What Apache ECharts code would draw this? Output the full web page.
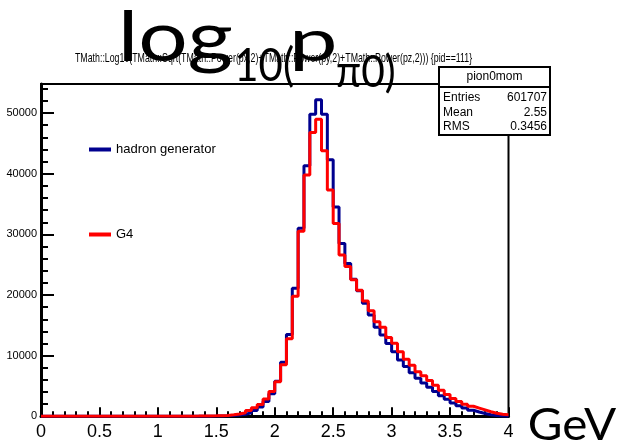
<!DOCTYPE html>
<html>
<head>
<meta charset="utf-8">
<script src="https://cdn.jsdelivr.net/npm/echarts@6/dist/echarts.min.js"></script>
<style>
html,body{margin:0;padding:0;background:#fff;}
#chart{width:621px;height:444px;}
</style>
</head>
<body>
<div id="chart"></div>
<script>
// Histogram binning (lower bin edges built from the bin width)
const BIN_WIDTH = 0.05;
const X_MIN = 0, X_MAX = 4;
// hadron generator counts per bin (80 bins, 0..4)
const hadronCounts = [
  0,0,0,0,0,0,0,0,0,0,
  0,0,0,0,0,0,0,0,0,0,
  3,4,5,6,8,10,14,20,28,38,
  50,80,130,200,330,560,950,1550,2450,3700,
  5800,8900,13500,21100,31000,41300,49800,52200,49800,42300,
  34500,28500,25200,22600,20700,18650,16700,14700,13400,12000,
  10650,9300,8200,7200,6270,5500,4800,4100,3400,2800,
  2200,1750,1350,1000,700,450,250,120,50,20
];
// G4 counts per bin
const g4Counts = [
  0,0,0,0,0,0,0,0,0,0,
  0,0,0,0,0,0,0,0,0,0,
  5,8,10,14,20,28,38,50,65,80,
  100,150,240,380,580,950,1400,1950,2850,4100,
  5700,8500,12800,19800,30500,39800,46800,49000,43800,37300,
  31800,26600,24700,22500,20800,19000,17400,15600,14700,13000,
  12050,10650,9400,8400,7360,6700,5900,5100,4300,3600,
  2950,2450,2000,1650,1350,1050,750,500,330,250
];
const seriesNames = ['hadron generator', 'G4'];
const xTickLabels = ['0','0.5','1','1.5','2','2.5','3','3.5','4'];
const yTickLabels = ['0','10000','20000','30000','40000','50000'];
const Y_MAX = 54800;
const statsTitle = 'pion0mom';
const statsRows = [['Entries','601707'],['Mean','2.55'],['RMS','0.3456']];
const subTitle = 'TMath::Log10(TMath::Sqrt(TMath::Power(px,2)+TMath::Power(py,2)+TMath::Power(pz,2))) {pid==111}';
const titlePieces = ['log', '10(', 'p', 'π0)'];
const unitText = 'GeV';

const binLow = hadronCounts.map((_, i) => +(X_MIN + i * BIN_WIDTH).toFixed(2));
function stepData(counts) {
  const d = counts.map((v, i) => [binLow[i], v]);
  d.push([X_MAX, counts[counts.length - 1]]);
  return d;
}

const NARROW = '"Liberation Sans Narrow","Liberation Sans",Arial,sans-serif';
const TITLE_FONT = 'Lato';

// place a text so that its ink box spans [left,right] x [top, base] (base = alphabetic baseline)
const mctx = document.createElement('canvas').getContext('2d');
function fitText(str, family, box, z) {
  mctx.textBaseline = 'alphabetic';
  mctx.font = '100px ' + family;
  const m0 = mctx.measureText(str);
  const F = 100 * (box.base - box.top) / m0.actualBoundingBoxAscent;
  const font = F.toFixed(2) + 'px ' + family;
  mctx.font = font;
  const m = mctx.measureText(str);
  const inkW = m.actualBoundingBoxLeft + m.actualBoundingBoxRight;
  const sx = (box.right - box.left) / inkW;
  mctx.textBaseline = 'middle';
  const mm = mctx.measureText(str);
  const off = mm.actualBoundingBoxDescent - m.actualBoundingBoxDescent;
  mctx.textBaseline = 'alphabetic';
  return {type: 'text', x: box.left + m.actualBoundingBoxLeft * sx, y: box.base - off, scaleX: sx, z: z,
    style: {text: str, font: font, fill: '#000', align: 'left', verticalAlign: 'middle'}};
}

const chart = echarts.init(document.getElementById('chart'), null, {renderer: 'canvas'});

const statsGraphics = [];
const bx = 439, by = 67, bw = 111, bh = 68;
statsGraphics.push({type:'rect', shape:{x:bx,y:by,width:bw,height:bh}, style:{fill:'#fff', stroke:'#000', lineWidth:2}, z:100});
statsGraphics.push({type:'line', shape:{x1:bx,y1:87,x2:bx+bw,y2:87}, style:{stroke:'#000', lineWidth:2}, z:101});
statsGraphics.push({type:'text', x:bx+bw/2, y:77, z:101, style:{text:statsTitle, font:'12px ' + NARROW, fill:'#000', align:'center', verticalAlign:'middle'}});
statsRows.forEach((r, i) => {
  const yy = 98 + i * 14.5;
  statsGraphics.push({type:'text', x:bx+4, y:yy, z:101, style:{text:r[0], font:'12px ' + NARROW, fill:'#000', align:'left', verticalAlign:'middle'}});
  statsGraphics.push({type:'text', x:bx+bw-3, y:yy, z:101, style:{text:r[1], font:'12px ' + NARROW, fill:'#000', align:'right', verticalAlign:'middle'}});
});

const textGraphics = [
  fitText(subTitle, NARROW, {left: 75, right: 472, top: 53, base: 62}, 50),
  fitText(titlePieces[0], TITLE_FONT, {left: 124, right: 232, top: 10, base: 61}, 60),
  fitText(titlePieces[1], TITLE_FONT, {left: 237, right: 293, top: 45, base: 81}, 60),
  fitText(titlePieces[2], TITLE_FONT, {left: 295, right: 335, top: 30, base: 61}, 60),
  fitText(titlePieces[3], TITLE_FONT, {left: 337, right: 394, top: 52, base: 87}, 60),
  fitText(unitText, TITLE_FONT, {left: 530, right: 617, top: 407, base: 440}, 60)
];

const option = {
  animation: false,
  backgroundColor: '#fff',
  grid: {left: 41, right: 112.5, top: 84, bottom: 27.7, show: true, borderColor: '#000', borderWidth: 2, containLabel: false},
  legend: [
    {data: [seriesNames[0]], left: 84, top: 138, icon: 'rect', itemWidth: 22, itemHeight: 4, itemGap: 6,
     textStyle: {fontSize: 13, fontFamily: NARROW, color: '#000'}},
    {data: [seriesNames[1]], left: 84, top: 223, icon: 'rect', itemWidth: 22, itemHeight: 4, itemGap: 6,
     textStyle: {fontSize: 13, fontFamily: NARROW, color: '#000'}}
  ],
  xAxis: {
    type: 'value', min: X_MIN, max: X_MAX, interval: 0.5,
    axisLine: {show: true, lineStyle: {color: '#000', width: 3}},
    axisTick: {show: true, inside: true, length: 9, lineStyle: {color: '#000', width: 2}},
    minorTick: {show: true, splitNumber: 5, length: 5, lineStyle: {color: '#000', width: 2}},
    splitLine: {show: false}, minorSplitLine: {show: false},
    axisLabel: {color: '#000', fontSize: 18, fontFamily: NARROW, margin: 7,
      formatter: v => { const s = String(+v.toFixed(2)); return xTickLabels.indexOf(s) >= 0 ? s : ''; }}
  },
  yAxis: [
    {
      type: 'value', min: 0, max: Y_MAX, interval: 10000, position: 'left',
      axisLine: {show: true, lineStyle: {color: '#000', width: 3}},
      axisTick: {show: true, inside: true, length: 13, lineStyle: {color: '#000', width: 2}},
      splitLine: {show: false},
      axisLabel: {color: '#000', fontSize: 11, fontFamily: NARROW, margin: 4,
        formatter: v => { const s = String(Math.round(v)); return yTickLabels.indexOf(s) >= 0 ? s : ''; }}
    },
    {
      type: 'value', min: 0, max: Y_MAX, interval: 2000, position: 'left', offset: 0,
      axisLine: {show: false},
      axisTick: {show: true, inside: true, length: 7, lineStyle: {color: '#000', width: 2}},
      splitLine: {show: false},
      axisLabel: {show: false}
    }
  ],
  series: [
    {name: seriesNames[0], type: 'line', step: 'end', symbol: 'none', yAxisIndex: 0,
     data: stepData(hadronCounts), color: '#00008f', lineStyle: {width: 3, color: '#00008f'}, z: 2},
    {name: seriesNames[1], type: 'line', step: 'end', symbol: 'none', yAxisIndex: 0,
     data: stepData(g4Counts), color: '#ff0000', lineStyle: {width: 3, color: '#ff0000'}, z: 3}
  ],
  graphic: textGraphics.concat(statsGraphics)
};
chart.setOption(option);
</script>
</body>
</html>
